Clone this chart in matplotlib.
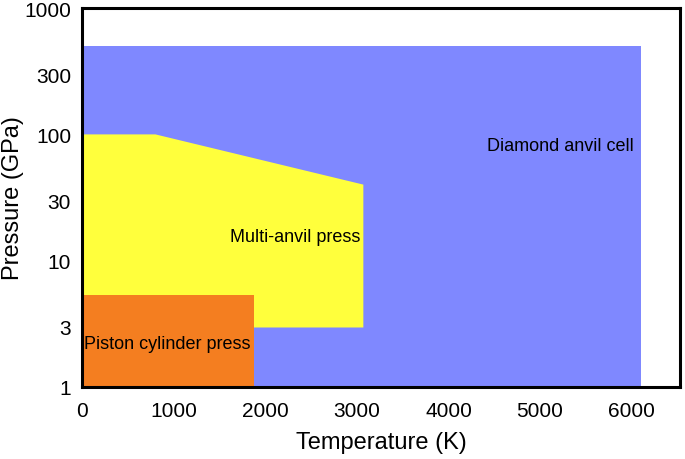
import matplotlib
matplotlib.use("Agg")
import matplotlib.pyplot as plt

plt.rcParams['font.family'] = ['Liberation Sans', 'DejaVu Sans']

# regions in (temperature K, pressure GPa)
dac_T = [0, 6100, 6100, 0]
dac_P = [1, 1, 500, 500]

mav_T = [0, 800, 3070, 3070, 0]
mav_P = [100, 100, 40, 2.95, 2.95]

pc_T = [0, 1880, 1880, 0]
pc_P = [1, 1, 5.3, 5.3]

xticks = [0, 1000, 2000, 3000, 4000, 5000, 6000]
yticks = [1, 3, 10, 30, 100, 300, 1000]

fig = plt.figure(figsize=(6.85, 4.6), dpi=100)
ax = fig.add_axes([0.12, 0.157, 0.873, 0.823])

ax.fill(dac_T, dac_P, color='#7F88FF', lw=0)
ax.fill(mav_T, mav_P, color='#FFFF3C', lw=0)
ax.fill(pc_T, pc_P, color='#F47E20', lw=0)

ax.text(4420, 82, 'Diamond anvil cell', fontsize=13, va='center', ha='left')
ax.text(3040, 15.5, 'Multi-anvil press', fontsize=13, va='center', ha='right')
ax.text(25, 2.22, 'Piston cylinder press', fontsize=13, va='center', ha='left')

ax.set_yscale('log')
ax.set_xlim(0, 6530)
ax.set_ylim(1, 1000)
ax.set_xticks(xticks)
ax.set_xticklabels([str(t) for t in xticks])
ax.set_yticks(yticks)
ax.set_yticklabels([str(t) for t in yticks])
ax.minorticks_off()
ax.tick_params(length=0, labelsize=15)
ax.tick_params(axis='x', pad=10)
ax.tick_params(axis='y', pad=8)
for s in ax.spines.values():
    s.set_linewidth(2.2)

ax.set_xlabel('Temperature (K)', fontsize=17, labelpad=8)
ax.set_ylabel('Pressure (GPa)', fontsize=17, labelpad=0)

fig.savefig('out.png', dpi=100)
